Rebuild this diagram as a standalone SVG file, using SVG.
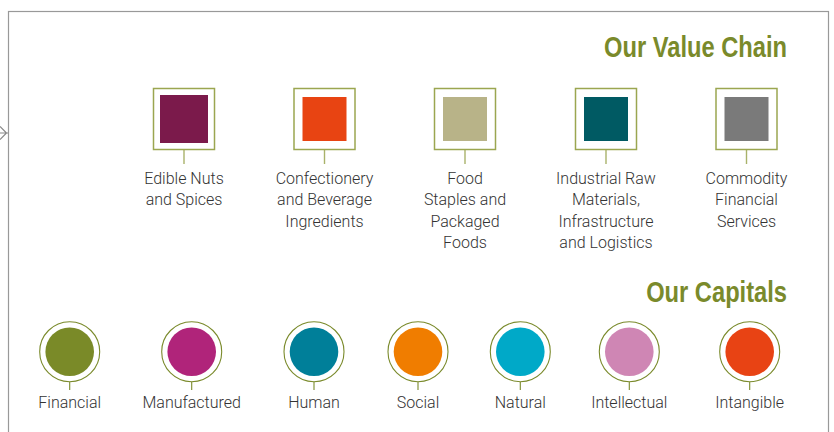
<svg xmlns="http://www.w3.org/2000/svg" width="834" height="432" viewBox="0 0 834 432">
  <style>
    .frame { fill: none; stroke: #999999; stroke-width: 1.2; }
    .title { font-family: "Liberation Sans", Arial, sans-serif; font-weight: bold; font-size: 30px; fill: #7a8a2b; text-anchor: end; }
    .label { font-family: Roboto, "Liberation Sans", sans-serif; font-weight: 300; font-size: 16px; fill: #333333; text-anchor: middle; }
    .box { fill: #ffffff; stroke: #9ba650; stroke-width: 1.5; }
    .ring { fill: #ffffff; stroke: #7a8a2b; stroke-width: 1.1; }
    .stem-sq { stroke: #a9b26a; stroke-width: 1.4; }
    .stem-ci { stroke: #7a8a2b; stroke-width: 1.1; }
    .edge { fill: none; stroke: #888888; stroke-width: 1.2; }
  </style>

  <!-- outer frame and incoming arrow tip -->
  <rect class="frame" x="8.5" y="11.5" width="820" height="440"/>
  <g id="connectors">
    <path class="edge" d="M0,126.5 L6.5,133 L0,139.5 M0,133 L8,133"/>
    <!-- value-chain stems -->
    <line class="stem-sq" x1="184" y1="150" x2="184" y2="164"/>
    <line class="stem-sq" x1="324.5" y1="150" x2="324.5" y2="164"/>
    <line class="stem-sq" x1="465" y1="150" x2="465" y2="164"/>
    <line class="stem-sq" x1="606" y1="150" x2="606" y2="164"/>
    <line class="stem-sq" x1="746.5" y1="150" x2="746.5" y2="164"/>
    <!-- capital stems -->
    <line class="stem-ci" x1="69.7" y1="382" x2="69.7" y2="390"/>
    <line class="stem-ci" x1="191.7" y1="382" x2="191.7" y2="390"/>
    <line class="stem-ci" x1="314" y1="382" x2="314" y2="390"/>
    <line class="stem-ci" x1="418" y1="382" x2="418" y2="390"/>
    <line class="stem-ci" x1="520.3" y1="382" x2="520.3" y2="390"/>
    <line class="stem-ci" x1="629.3" y1="382" x2="629.3" y2="390"/>
    <line class="stem-ci" x1="749.7" y1="382" x2="749.7" y2="390"/>
  </g>

  <!-- section headings, set in a condensed cut -->
  <text id="title-value-chain" class="title" transform="translate(787,57) scale(0.79,1)">Our Value Chain</text>
  <text id="title-capitals" class="title" transform="translate(787,302) scale(0.79,1)">Our Capitals</text>

  <!-- value chain segments -->
  <g id="edible-nuts">
    <rect class="box" x="153.5" y="88.5" width="61" height="61"/>
    <rect x="160" y="95" width="48" height="48" fill="#7b1a4b"/>
    <text class="label" x="184" y="184">Edible Nuts</text>
    <text class="label" x="184" y="205.3">and Spices</text>
  </g>
  <g id="confectionery">
    <rect class="box" x="294" y="88.5" width="61" height="61"/>
    <rect x="302.5" y="97" width="44" height="44" fill="#e84412"/>
    <text class="label" x="324.5" y="184">Confectionery</text>
    <text class="label" x="324.5" y="205.3">and Beverage</text>
    <text class="label" x="324.5" y="226.6">Ingredients</text>
  </g>
  <g id="food-staples">
    <rect class="box" x="434.5" y="88.5" width="61" height="61"/>
    <rect x="443" y="97" width="44" height="44" fill="#b8b388"/>
    <text class="label" x="465" y="184">Food</text>
    <text class="label" x="465" y="205.3">Staples and</text>
    <text class="label" x="465" y="226.6">Packaged</text>
    <text class="label" x="465" y="248">Foods</text>
  </g>
  <g id="industrial">
    <rect class="box" x="575.5" y="88.5" width="61" height="61"/>
    <rect x="584" y="97" width="44" height="44" fill="#005a63"/>
    <text class="label" x="606" y="184">Industrial Raw</text>
    <text class="label" x="606" y="205.3">Materials,</text>
    <text class="label" x="606" y="226.6">Infrastructure</text>
    <text class="label" x="606" y="248">and Logistics</text>
  </g>
  <g id="commodity">
    <rect class="box" x="716" y="88.5" width="61" height="61"/>
    <rect x="724.5" y="97" width="44" height="44" fill="#7a7a7a"/>
    <text class="label" x="746.5" y="184">Commodity</text>
    <text class="label" x="746.5" y="205.3">Financial</text>
    <text class="label" x="746.5" y="226.6">Services</text>
  </g>

  <!-- capitals -->
  <g id="financial">
    <circle class="ring" cx="69.7" cy="351.7" r="30"/>
    <circle cx="69.7" cy="351.7" r="24.3" fill="#7a8a28"/>
    <text class="label" x="69.7" y="407.5">Financial</text>
  </g>
  <g id="manufactured">
    <circle class="ring" cx="191.7" cy="351.7" r="30"/>
    <circle cx="191.7" cy="351.7" r="24.3" fill="#b0247a"/>
    <text class="label" x="191.7" y="407.5">Manufactured</text>
  </g>
  <g id="human">
    <circle class="ring" cx="314" cy="351.7" r="30"/>
    <circle cx="314" cy="351.7" r="24.3" fill="#007f99"/>
    <text class="label" x="314" y="407.5">Human</text>
  </g>
  <g id="social">
    <circle class="ring" cx="418" cy="351.7" r="30"/>
    <circle cx="418" cy="351.7" r="24.3" fill="#f07d00"/>
    <text class="label" x="418" y="407.5">Social</text>
  </g>
  <g id="natural">
    <circle class="ring" cx="520.3" cy="351.7" r="30"/>
    <circle cx="520.3" cy="351.7" r="24.3" fill="#00a9c8"/>
    <text class="label" x="520.3" y="407.5">Natural</text>
  </g>
  <g id="intellectual">
    <circle class="ring" cx="629.3" cy="351.7" r="30"/>
    <circle cx="629.3" cy="351.7" r="24.3" fill="#cf86b4"/>
    <text class="label" x="629.3" y="407.5">Intellectual</text>
  </g>
  <g id="intangible">
    <circle class="ring" cx="749.7" cy="351.7" r="30"/>
    <circle cx="749.7" cy="351.7" r="24.3" fill="#e84314"/>
    <text class="label" x="749.7" y="407.5">Intangible</text>
  </g>
</svg>
